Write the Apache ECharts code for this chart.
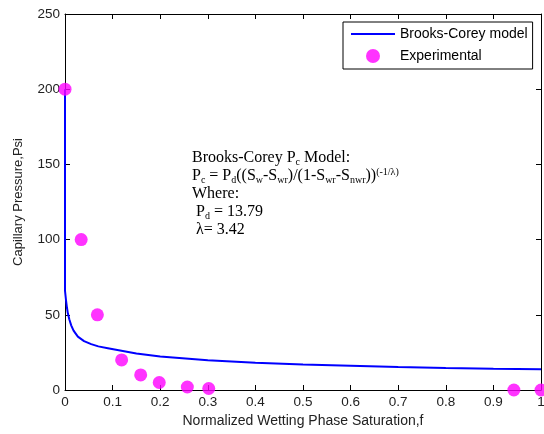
<!DOCTYPE html>
<html><head><meta charset="utf-8">
<script src="https://cdn.jsdelivr.net/npm/echarts@6/dist/echarts.min.js"></script>
<style>html,body{margin:0;padding:0;background:#fff}#c{width:544px;height:434px}</style>
</head><body><div id="c"></div>
<script>
// Brooks-Corey model curve: [saturation, pressure]
var modelX = [0, 0, 0.002, 0.004, 0.006, 0.009, 0.013, 0.018, 0.027, 0.04, 0.055, 0.07, 0.09, 0.11, 0.15, 0.2, 0.3, 0.4, 0.5, 0.6, 0.7, 0.8, 0.9, 1.0];
var modelY = [200, 66, 60, 55, 51, 47, 43, 39.5, 35.5, 32.5, 30.5, 29, 27.8, 26.6, 24.2, 22.2, 19.8, 18.2, 17, 16.1, 15.3, 14.7, 14.2, 13.8];
// Experimental points
var expX = [0, 0.034, 0.068, 0.119, 0.159, 0.198, 0.257, 0.302, 0.943, 1.0];
var expY = [200, 100, 50, 20, 10, 5, 2, 1, 0, 0];
var xTicks = ['0','0.1','0.2','0.3','0.4','0.5','0.6','0.7','0.8','0.9','1'];

function zip(a, b){ return a.map(function(v,i){ return [v, b[i]]; }); }

var chart = echarts.init(document.getElementById('c'), null, {renderer:'canvas'});
var fam = 'Liberation Sans, Arial, sans-serif';
var tickFont = {fontFamily:fam, fontSize:13.5, color:'#222'};
var titleFont = {fontFamily:fam, fontSize:14, color:'#222'};
function axLine(){ return {show:true, onZero:false, lineStyle:{color:'#000', width:1}}; }
function axTick(){ return {show:true, inside:true, length:5, lineStyle:{color:'#000', width:1}}; }
chart.setOption({
  animation:false,
  backgroundColor:'#fff',
  grid:{left:65, right:3, top:14, bottom:44, containLabel:false, outerBoundsMode:'none'},
  legend:{
    orient:'vertical', left:343, top:22,
    padding:[5,5,6,8], itemGap:8, itemWidth:44, itemHeight:14,
    borderColor:'#000', borderWidth:1, backgroundColor:'#fff',
    textStyle:{fontFamily:fam, fontSize:14, color:'#000'},
    data:[
      {name:'Brooks-Corey model', icon:'path://M0,0L0.01,0L0.01,0.01ZM0,6L44,6L44,8L0,8ZM44,14L43.99,14L43.99,13.99Z'},
      {name:'Experimental', icon:'circle'}
    ]
  },
  xAxis:[{
    type:'value', min:0, max:1, interval:0.1, position:'bottom',
    name:'Normalized Wetting Phase Saturation,f', nameLocation:'middle', nameGap:21,
    nameTextStyle:titleFont,
    axisLine:axLine(), axisTick:axTick(),
    splitLine:{show:false},
    axisLabel:Object.assign({margin:5, formatter:function(v){ return xTicks[Math.round(v*10)]; }}, tickFont)
  },{
    type:'value', min:0, max:1, interval:0.1, position:'top',
    axisLine:axLine(), axisTick:axTick(),
    splitLine:{show:false}, axisLabel:{show:false}
  }],
  yAxis:[{
    type:'value', min:0, max:250, interval:50, position:'left',
    name:'Capillary Pressure,Psi', nameLocation:'middle', nameGap:40,
    nameTextStyle:{fontFamily:fam, fontSize:13, color:'#222'},
    axisLine:axLine(), axisTick:axTick(),
    splitLine:{show:false},
    axisLabel:Object.assign({margin:5}, tickFont)
  },{
    type:'value', min:0, max:250, interval:50, position:'right',
    axisLine:axLine(), axisTick:axTick(),
    splitLine:{show:false}, axisLabel:{show:false}
  }],
  series:[{
    name:'Brooks-Corey model', type:'line', data:zip(modelX, modelY),
    symbol:'none', showSymbol:false, smooth:false, clip:false,
    lineStyle:{color:'#0000ff', width:2}, itemStyle:{color:'#0000ff'}, z:3
  },{
    name:'Experimental', type:'scatter', data:zip(expX, expY),
    symbol:'circle', symbolSize:13, clip:false,
    itemStyle:{color:'#ff00ff'}, z:4
  }],
  graphic:[{
    type:'text', left:192, top:149, z:10,
    style:{
      text:'Brooks-Corey P{sub|c} Model:\nP{sub|c} = P{sub|d}((S{sub|w}-S{sub|wr})/(1-S{sub|wr}-S{sub|nwr})){sup|(-1/λ)}\nWhere:\n P{sub|d} = 13.79\n λ= 3.42',
      fontFamily:'Liberation Serif, Times New Roman, serif', fontSize:16, lineHeight:18, fill:'#000',
      rich:{
        sub:{fontFamily:'Liberation Serif, serif', fontSize:10, verticalAlign:'bottom', lineHeight:18, fill:'#000'},
        sup:{fontFamily:'Liberation Serif, serif', fontSize:10, verticalAlign:'top', lineHeight:18, fill:'#000'}
      }
    }
  }]
});
</script></body></html>
